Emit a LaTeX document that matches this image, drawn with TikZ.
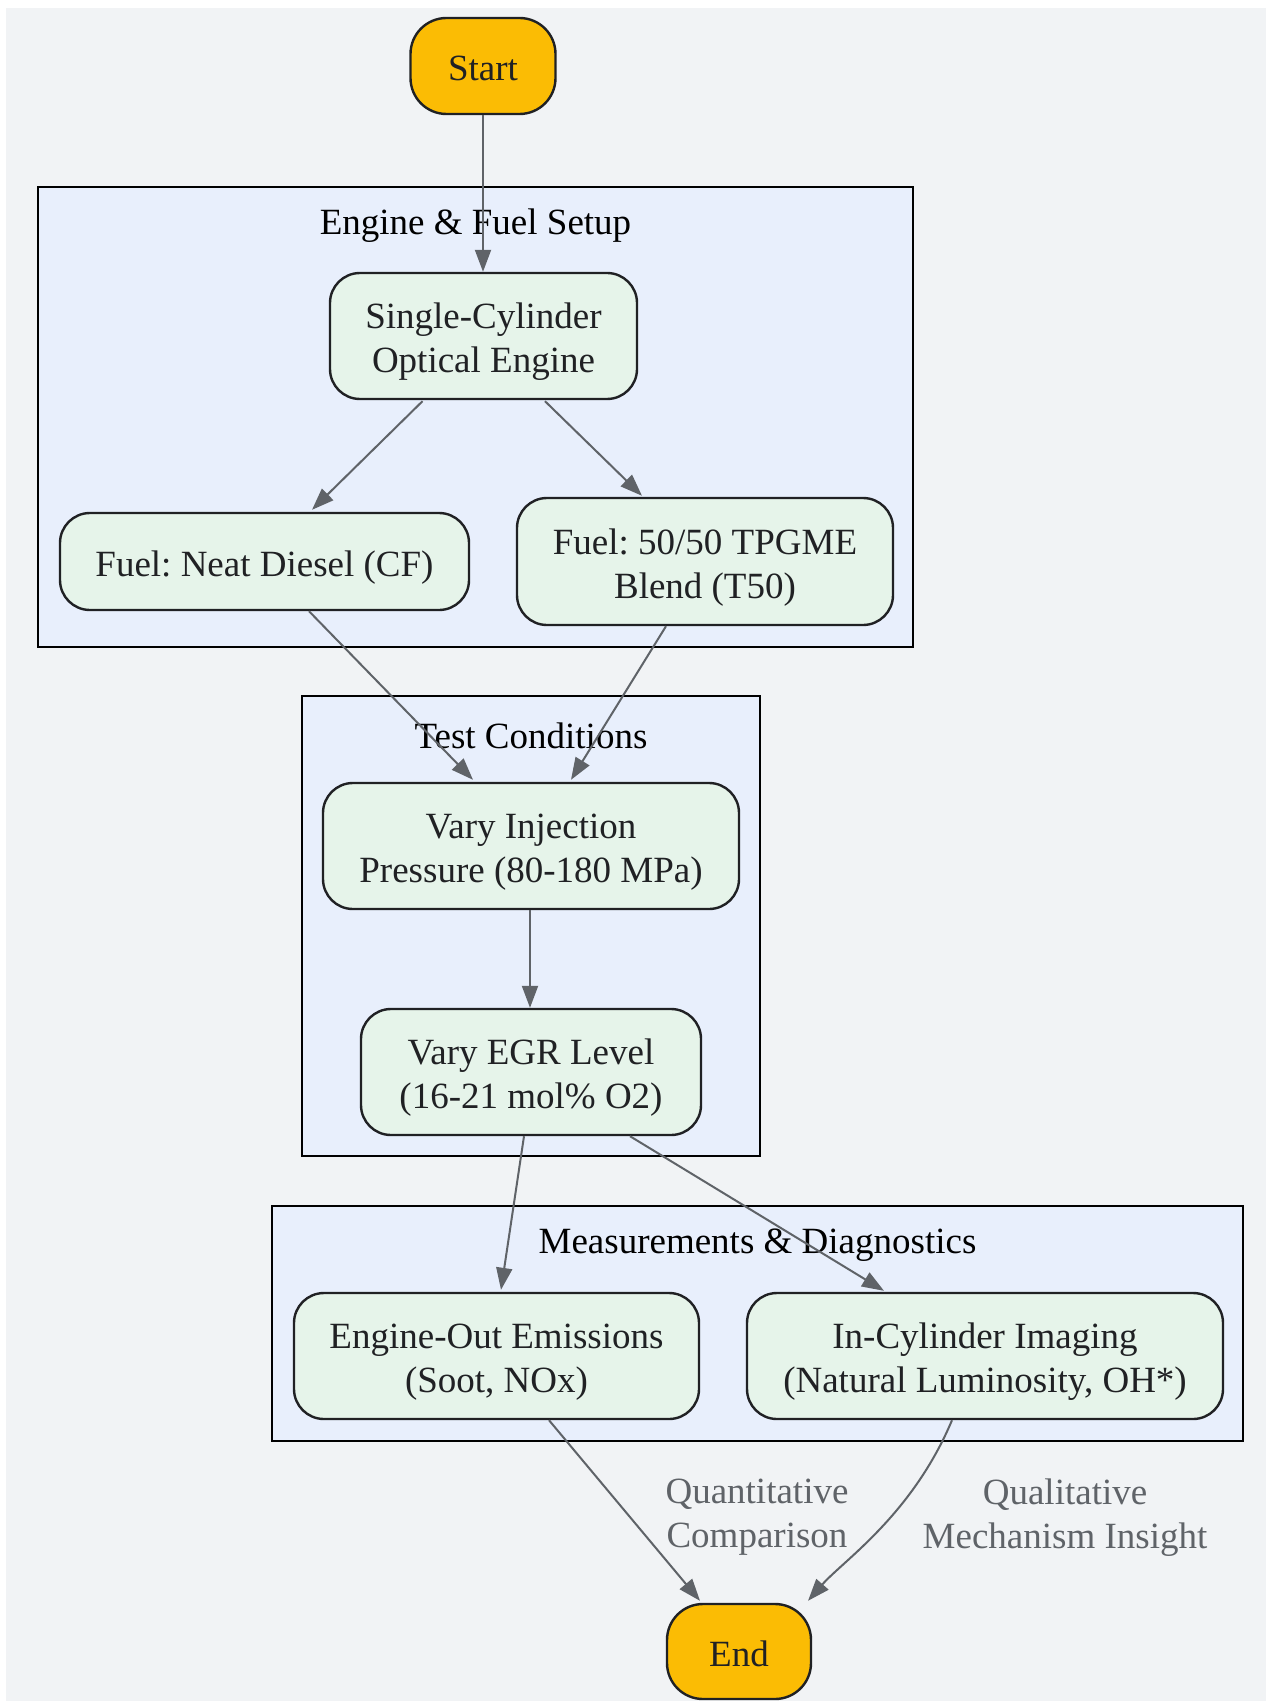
\documentclass[tikz,border=0pt]{standalone}
\usepackage{fontspec}
\setmainfont{Liberation Serif}
\usetikzlibrary{arrows.meta,calc}
\definecolor{bgcol}{HTML}{F1F3F5}
\definecolor{clfill}{HTML}{E8EFFC}
\definecolor{ndfill}{HTML}{E6F4EA}
\definecolor{termfill}{HTML}{FBBC04}
\definecolor{edgecol}{HTML}{5F6368}
\definecolor{bordcol}{HTML}{202124}
\frenchspacing
\newcommand\ntext[1]{\raisebox{-3pt}[\height][\depth]{\begin{tabular}{@{}c@{}}#1\end{tabular}}}
\begin{document}
\begin{tikzpicture}[x=0.5pt,y=-0.5pt,
  txt/.style={font=\fontsize{18.5}{22}\selectfont},
  cluster/.style={draw=black,line width=1.2pt,fill=clfill,inner sep=0pt},
  cltitle/.style={txt,text=black,inner sep=0pt},
  proc/.style={txt,draw=bordcol,line width=1.2pt,fill=ndfill,text=bordcol,rounded corners=15pt,inner sep=0pt},
  term/.style={txt,draw=bordcol,line width=1.2pt,fill=termfill,text=bordcol,rounded corners=18pt,inner sep=0pt},
  arr/.style={draw=edgecol,line width=1pt,-{Triangle[length=11pt,width=8pt]}},
  elabel/.style={txt,text=edgecol,align=center,inner sep=0pt}
]
\useasboundingbox (0,0) rectangle (1266,1701);
\fill[bgcol] (6,8) rectangle (1266,1701);

% clusters
\node[cluster,minimum width=437.5pt,minimum height=230pt] (c1) at (475.5,417) {};
\node[cltitle] (t1) at (475.5,225.5) {Engine \& Fuel Setup};
\node[cluster,minimum width=229pt,minimum height=230pt] (c2) at (531,926) {};
\node[cltitle] (t2) at (531,735.5) {Test Conditions};
\node[cluster,minimum width=485.5pt,minimum height=117.5pt] (c3) at (757.5,1323.5) {};
\node[cltitle] (t3) at (757.5,1245.5) {Measurements \& Diagnostics};

% nodes
\node[term,minimum width=72.5pt,minimum height=48pt] (start) at (483,66) {\ntext{Start}};
\node[proc,minimum width=153.5pt,minimum height=63pt] (single) at (483.5,336) {\ntext{Single-Cylinder\\Optical Engine}};
\node[proc,minimum width=204.5pt,minimum height=48.5pt] (neat) at (264.5,561.5) {\ntext{Fuel: Neat Diesel (CF)}};
\node[proc,minimum width=188pt,minimum height=63.5pt] (blend) at (705,561.5) {\ntext{Fuel: 50/50 TPGME\\Blend (T50)}};
\node[proc,minimum width=208pt,minimum height=63pt] (inj) at (531,846) {\ntext{Vary Injection\\Pressure (80-180 MPa)}};
\node[proc,minimum width=170pt,minimum height=63pt] (egr) at (531,1072) {\ntext{Vary EGR Level\\(16-21 mol\% O2)}};
\node[proc,minimum width=202.5pt,minimum height=63pt] (emis) at (496.5,1356) {\ntext{Engine-Out Emissions\\(Soot, NOx)}};
\node[proc,minimum width=238pt,minimum height=63pt] (imag) at (985,1356) {\ntext{In-Cylinder Imaging\\(Natural Luminosity, OH*)}};
\node[term,minimum width=72pt,minimum height=47.5pt] (end) at (739,1651.5) {\ntext{End}};

% edges
\draw[arr] (start.south) -- (start.south |- single.north);
\draw[arr] ($(single.south)+(-61,1)$) -- ($(neat.north)+(47.5,-2)$);
\draw[arr] ($(single.south)+(61.5,1)$) -- ($(blend.north)+(-63,-1)$);
\draw[arr] ($(neat.south)+(44.5,0)$) -- ($(inj.north)+(-58,-2)$);
\draw[arr] ($(blend.south)+(-39,0)$) -- ($(inj.north)+(40,-2)$);
\draw[arr] ($(inj.south)+(-1,0)$) -- ($(egr.north)+(-1,0)$);
\draw[arr] ($(egr.south)+(-7,0)$) -- ($(emis.north)+(4.5,-2)$);
\draw[arr] ($(egr.south)+(99,0)$) -- ($(imag.north)+(-101,-1)$);
\draw[arr] ($(emis.south)+(52.5,0)$) -- ($(end.north)+(-39,-2)$);
\draw[arr] ($(imag.south)+(-33,0)$) .. controls +(-40,95) and +(35,-40) .. ($(end.north)+(69,-2)$);

% edge labels
\node[elabel] (qlab) at (757,1517.5) {Quantitative\\Comparison};
\node[elabel] (mlab) at (1065,1517.5) {Qualitative\\Mechanism Insight};
\end{tikzpicture}
\end{document}
